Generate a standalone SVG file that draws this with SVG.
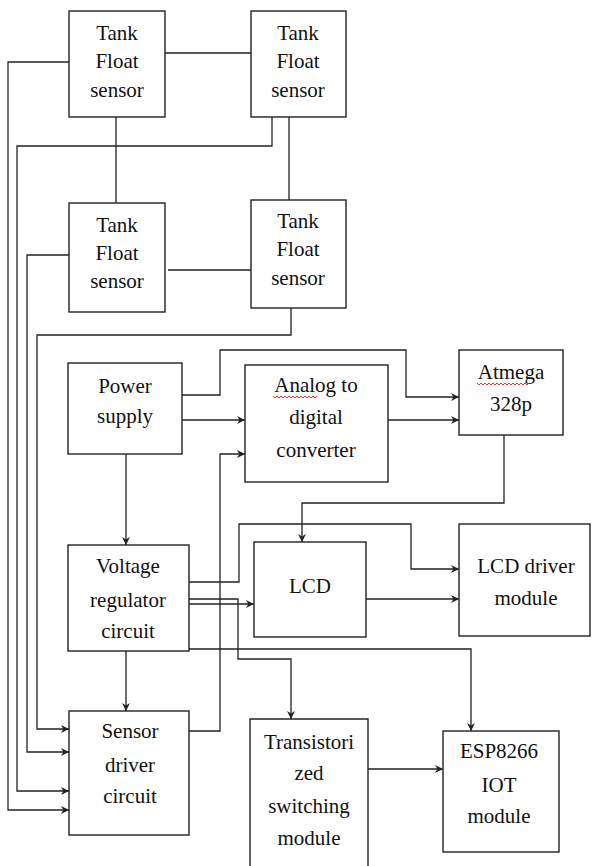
<svg xmlns="http://www.w3.org/2000/svg" width="593" height="866" viewBox="0 0 593 866">
<style>
.box{fill:#fff;stroke:#222;stroke-width:1.4}
.t{font-family:'Liberation Serif','DejaVu Serif','Times New Roman',serif;font-size:21px;fill:#111;text-anchor:middle}
.c{fill:none;stroke:#222;stroke-width:1.3}
.sq{fill:none;stroke:#e02020;stroke-width:0.9}
</style>
<defs>
<marker id="ah" viewBox="0 0 10 10" refX="10" refY="5" markerWidth="8" markerHeight="8" markerUnits="userSpaceOnUse" orient="auto">
<path d="M0 0 L10 5 L0 10 L3 5 Z" fill="#222"/>
</marker>
</defs>
<rect width="593" height="866" fill="#fff"/>
<g id="connectors">
<path class="c" d="M165 53 H251"/>
<path class="c" d="M69 62 H8 V810 H69" marker-end="url(#ah)"/>
<path class="c" d="M116 117 V203"/>
<path class="c" d="M272 117 V146 H17 V791 H69" marker-end="url(#ah)"/>
<path class="c" d="M289 117 V200"/>
<path class="c" d="M168 270 H251"/>
<path class="c" d="M69 255 H27 V752 H69" marker-end="url(#ah)"/>
<path class="c" d="M291 308 V335 H37 V729 H69" marker-end="url(#ah)"/>
<path class="c" d="M182 395 H220 V350 H406 V397 H459" marker-end="url(#ah)"/>
<path class="c" d="M182 420 H245" marker-end="url(#ah)"/>
<path class="c" d="M189 731 H220 V454 H245" marker-end="url(#ah)"/>
<path class="c" d="M388 420 H459" marker-end="url(#ah)"/>
<path class="c" d="M504 435 V503 H302 V542" marker-end="url(#ah)"/>
<path class="c" d="M366 599 H459" marker-end="url(#ah)"/>
<path class="c" d="M126 454 V545" marker-end="url(#ah)"/>
<path class="c" d="M126 651 V711" marker-end="url(#ah)"/>
<path class="c" d="M189 582 H239 V524 H411 V569 H459" marker-end="url(#ah)"/>
<path class="c" d="M189 599 H238 V659 H291 V719" marker-end="url(#ah)"/>
<path class="c" d="M189 604 H254" marker-end="url(#ah)"/>
<path class="c" d="M189 649 H471 V731" marker-end="url(#ah)"/>
<path class="c" d="M368 769 H443" marker-end="url(#ah)"/>
</g>
<g id="tank1"><rect class="box" x="69" y="11" width="96" height="106"/>
<text class="t" x="117" y="40">Tank</text><text class="t" x="117" y="68">Float</text><text class="t" x="117" y="97">sensor</text></g>
<g id="tank2"><rect class="box" x="251" y="11" width="95" height="106"/>
<text class="t" x="298" y="40">Tank</text><text class="t" x="298" y="68">Float</text><text class="t" x="298" y="97">sensor</text></g>
<g id="tank3"><rect class="box" x="69" y="203" width="96" height="109"/>
<text class="t" x="117" y="232">Tank</text><text class="t" x="117" y="260">Float</text><text class="t" x="117" y="288">sensor</text></g>
<g id="tank4"><rect class="box" x="251" y="200" width="95" height="108"/>
<text class="t" x="298" y="228">Tank</text><text class="t" x="298" y="256">Float</text><text class="t" x="298" y="285">sensor</text></g>
<g id="power"><rect class="box" x="68" y="363" width="114" height="91"/>
<text class="t" x="125" y="393">Power</text><text class="t" x="125" y="423">supply</text></g>
<g id="adc"><rect class="box" x="245" y="365" width="143" height="117"/>
<text class="t" x="316" y="392">Analog to</text><text class="t" x="316" y="424">digital</text><text class="t" x="316" y="457">converter</text>
<path class="sq" d="M273 396 l2 2 l2 -2 l2 2 l2 -2 l2 2 l2 -2 l2 2 l2 -2 l2 2 l2 -2 l2 2 l2 -2 l2 2 l2 -2 l2 2 l2 -2 l2 2 l2 -2 l2 2 l2 -2 l2 2 l2 -2"/></g>
<g id="atmega"><rect class="box" x="459" y="350" width="104" height="85"/>
<text class="t" x="511" y="379">Atmega</text><text class="t" x="511" y="411">328p</text>
<path class="sq" d="M477 383 l2 2 l2 -2 l2 2 l2 -2 l2 2 l2 -2 l2 2 l2 -2 l2 2 l2 -2 l2 2 l2 -2 l2 2 l2 -2 l2 2 l2 -2 l2 2 l2 -2 l2 2 l2 -2 l2 2 l2 -2 l2 2 l2 -2 l2 2 l2 -2"/></g>
<g id="vreg"><rect class="box" x="68" y="545" width="121" height="106"/>
<text class="t" x="128" y="573">Voltage</text><text class="t" x="128" y="607">regulator</text><text class="t" x="128" y="638">circuit</text></g>
<g id="lcd"><rect class="box" x="254" y="542" width="112" height="95"/>
<text class="t" x="310" y="593">LCD</text></g>
<g id="lcddriver"><rect class="box" x="459" y="524" width="131" height="112"/>
<text class="t" x="526" y="573">LCD driver</text><text class="t" x="526" y="605">module</text></g>
<g id="sensordriver"><rect class="box" x="69" y="711" width="120" height="124"/>
<text class="t" x="130" y="738">Sensor</text><text class="t" x="130" y="772">driver</text><text class="t" x="130" y="803">circuit</text></g>
<g id="transistor"><path class="box" d="M250 866 V719 H368 V866"/>
<text class="t" x="309" y="749">Transistori</text><text class="t" x="309" y="780">zed</text><text class="t" x="309" y="813">switching</text><text class="t" x="309" y="845">module</text></g>
<g id="esp"><rect class="box" x="443" y="731" width="116" height="121"/>
<text class="t" x="499" y="758">ESP8266</text><text class="t" x="499" y="792">IOT</text><text class="t" x="499" y="823">module</text></g>
</svg>
